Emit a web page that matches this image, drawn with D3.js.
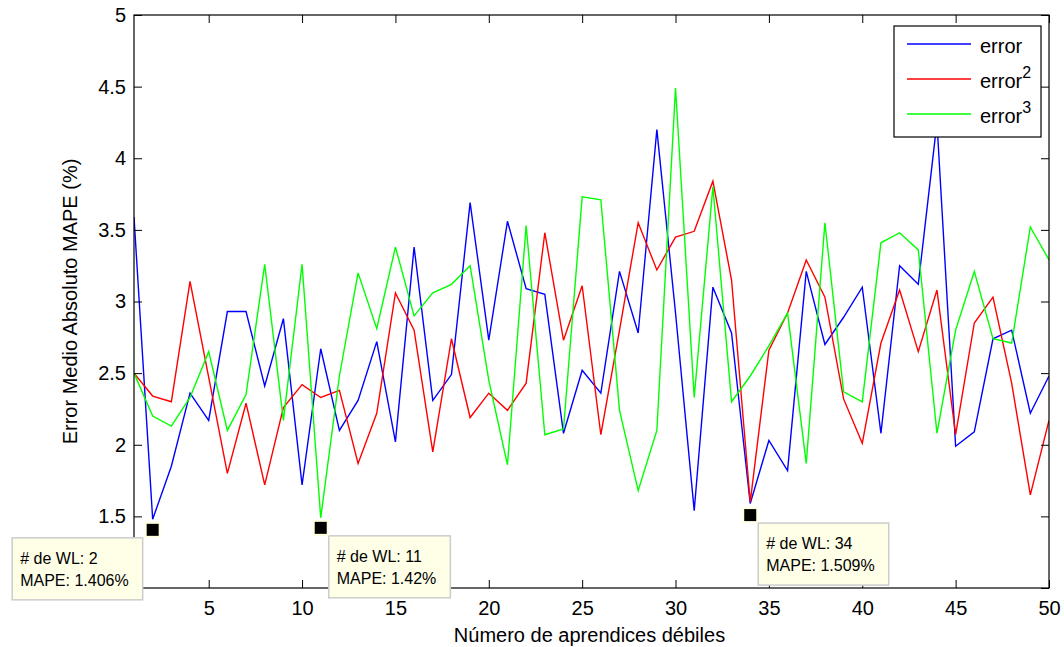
<!DOCTYPE html>
<html>
<head>
<meta charset="utf-8">
<script src="https://cdn.jsdelivr.net/npm/d3@7"></script>
<style>
  body { margin: 0; background: #fff; }
  svg { font-family: "Liberation Sans", Arial, sans-serif; }
</style>
</head>
<body>
<svg id="chart" width="1064" height="647"></svg>
<script>
// number of weak learners
var learners = d3.range(1, 51);

var errorVals = [3.59, 1.48, 1.85, 2.36, 2.17, 2.93, 2.93, 2.41, 2.88, 1.72,
                 2.67, 2.10, 2.31, 2.72, 2.02, 3.38, 2.31, 2.49, 3.69, 2.73,
                 3.56, 3.09, 3.05, 2.08, 2.52, 2.36, 3.21, 2.78, 4.20, 2.92,
                 1.54, 3.10, 2.78, 1.59, 2.03, 1.82, 3.21, 2.70, 2.89, 3.10,
                 2.08, 3.25, 3.12, 4.25, 1.99, 2.09, 2.74, 2.80, 2.22, 2.48];

var error2Vals = [2.50, 2.34, 2.30, 3.14, 2.47, 1.80, 2.29, 1.72, 2.26, 2.42,
                  2.33, 2.38, 1.87, 2.22, 3.06, 2.80, 1.95, 2.74, 2.19, 2.36,
                  2.24, 2.43, 3.48, 2.73, 3.11, 2.07, 2.80, 3.55, 3.22, 3.45,
                  3.49, 3.84, 3.15, 1.60, 2.66, 2.92, 3.29, 3.03, 2.32, 2.01,
                  2.71, 3.08, 2.65, 3.08, 2.07, 2.85, 3.03, 2.43, 1.65, 2.17];

var error3Vals = [2.50, 2.20, 2.13, 2.33, 2.65, 2.10, 2.35, 3.26, 2.17, 3.26,
                  1.49, 2.48, 3.20, 2.81, 3.38, 2.90, 3.06, 3.12, 3.25, 2.45,
                  1.86, 3.53, 2.07, 2.11, 3.73, 3.71, 2.24, 1.68, 2.10, 4.49,
                  2.33, 3.80, 2.30, 2.48, 2.69, 2.92, 1.87, 3.55, 2.37, 2.30,
                  3.41, 3.48, 3.36, 2.08, 2.80, 3.21, 2.74, 2.71, 3.52, 3.29];

var seriesNames = ["error", "error", "error"];
var seriesPowers = ["", "2", "3"];
var seriesColors = ["#0000ff", "#ff0000", "#00ff00"];

var xTicks = [5, 10, 15, 20, 25, 30, 35, 40, 45, 50];
var yTicks = [1, 1.5, 2, 2.5, 3, 3.5, 4, 4.5, 5];

// data tips
var tipWL = [2, 11, 34];
var tipMape = [1.406, 1.42, 1.509];
var tipSide = ["left", "right", "right"];

var margin = {left: 134, right: 15, top: 15, bottom: 59};
var svg = d3.select("#chart");
var width = +svg.attr("width") - margin.left - margin.right;
var height = +svg.attr("height") - margin.top - margin.bottom;

var x = d3.scaleLinear().domain([1, 50]).range([0, width]);
var y = d3.scaleLinear().domain([1, 5]).range([height, 0]);

var g = svg.append("g")
    .attr("transform", "translate(" + margin.left + "," + margin.top + ")");

svg.append("defs").append("clipPath").attr("id", "plotclip")
  .append("rect").attr("width", width).attr("height", height);

// lines
var line = d3.line()
    .x((d, i) => x(learners[i]))
    .y(d => y(d));

[errorVals, error2Vals, error3Vals].forEach(function(vals, k) {
  g.append("path")
    .datum(vals)
    .attr("clip-path", "url(#plotclip)")
    .attr("fill", "none")
    .attr("stroke", seriesColors[k])
    .attr("stroke-width", 1.4)
    .attr("d", line);
});

// axes, MATLAB style: ticks inward on all four sides
function styleAxis(sel, showLabels) {
  sel.select(".domain").remove();
  sel.selectAll(".tick line").attr("stroke", "#000");
  sel.selectAll(".tick text")
    .attr("fill", "#000")
    .style("font-size", "20px");
  if (!showLabels) sel.selectAll(".tick text").remove();
}

// the "1" label sits under the first data tip in the original
var yFormat = d => d === 1 ? "" : String(d);

g.append("g")
    .attr("transform", "translate(0," + height + ")")
    .call(d3.axisBottom(x).tickValues(xTicks).tickSizeInner(-8).tickSizeOuter(0).tickPadding(13))
    .call(styleAxis, true);

g.append("g")
    .call(d3.axisTop(x).tickValues(xTicks).tickSizeInner(-8).tickSizeOuter(0))
    .call(styleAxis, false);

g.append("g")
    .call(d3.axisLeft(y).tickValues(yTicks).tickFormat(yFormat).tickSizeInner(-8).tickSizeOuter(0).tickPadding(8))
    .call(styleAxis, true);

g.append("g")
    .attr("transform", "translate(" + width + ",0)")
    .call(d3.axisRight(y).tickValues(yTicks).tickSizeInner(-8).tickSizeOuter(0))
    .call(styleAxis, false);

g.append("rect")
    .attr("width", width)
    .attr("height", height)
    .attr("fill", "none")
    .attr("stroke", "#000")
    .attr("stroke-width", 1.2);

// axis titles
g.append("text")
    .attr("x", width / 2 - 2)
    .attr("y", height + 54)
    .attr("text-anchor", "middle")
    .style("font-size", "20px")
    .text("Número de aprendices débiles");

g.append("text")
    .attr("transform", "translate(-57," + (height / 2) + ") rotate(-90)")
    .attr("text-anchor", "middle")
    .style("font-size", "20px")
    .text("Error Medio Absoluto MAPE (%)");

// legend
var legend = g.append("g")
    .attr("transform", "translate(" + (width - 155) + ",11)");

legend.append("rect")
    .attr("width", 147)
    .attr("height", 111)
    .attr("fill", "#fff")
    .attr("stroke", "#000")
    .attr("stroke-width", 1.2);

seriesNames.forEach(function(name, k) {
  var row = legend.append("g")
      .attr("transform", "translate(0," + (18 + k * 35) + ")");
  row.append("line")
      .attr("x1", 13).attr("x2", 77)
      .attr("stroke", seriesColors[k])
      .attr("stroke-width", 1.4);
  var t = row.append("text")
      .attr("x", 86)
      .attr("y", 9)
      .style("font-size", "20px")
      .text(name);
  if (seriesPowers[k]) {
    t.append("tspan")
        .attr("dy", -10)
        .style("font-size", "16px")
        .text(seriesPowers[k]);
  }
});

// data tips
tipWL.forEach(function(wl, k) {
  var cx = x(wl), cy = y(tipMape[k]);
  var tip = g.append("g");
  var box = tip.append("rect")
      .attr("fill", "#ffffe8")
      .attr("stroke", "#cccccc")
      .attr("stroke-width", 1.5);
  var l1 = tip.append("text")
      .style("font-size", "16px")
      .attr("fill", "#000")
      .text("# de WL: " + wl);
  var l2 = tip.append("text")
      .style("font-size", "16px")
      .attr("fill", "#000")
      .text("MAPE: " + tipMape[k] + "%");
  var w = Math.max(l1.node().getComputedTextLength(), l2.node().getComputedTextLength()) + 22;
  var h = 62;
  var bx = tipSide[k] === "left" ? cx - 10 - w : cx + 8;
  var by = cy + 8;
  box.attr("x", bx).attr("y", by).attr("width", w).attr("height", h);
  l1.attr("x", bx + 8).attr("y", by + 26);
  l2.attr("x", bx + 8).attr("y", by + 48);

  tip.append("rect")
      .attr("x", cx - 7).attr("y", cy - 7)
      .attr("width", 14).attr("height", 14)
      .attr("fill", "#000")
      .attr("stroke", "#ffffe0")
      .attr("stroke-width", 2);
});
</script>
</body>
</html>
